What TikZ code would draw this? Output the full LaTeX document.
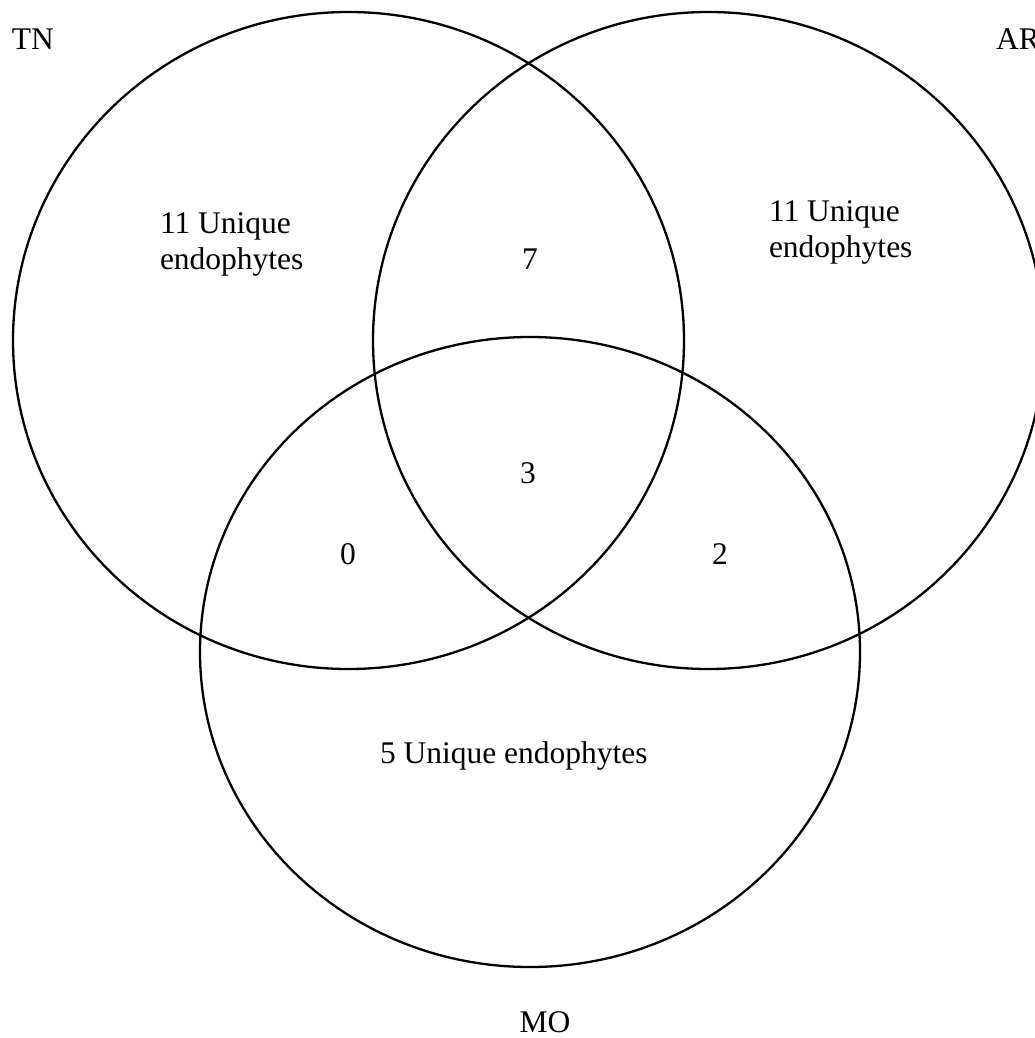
\documentclass[tikz,border=0pt]{standalone}
\usepackage{fontspec}
\setmainfont{Liberation Serif}
\usetikzlibrary{shapes.geometric}
\begin{document}
\begin{tikzpicture}[x=1pt,y=-1pt,
  setring/.style={draw=black,line width=2.3pt,ellipse,inner sep=0pt,outer sep=0pt},
  lbl/.style={font=\fontsize{31.5}{36}\selectfont,inner sep=0pt,outer sep=0pt},
  num/.style={lbl,anchor=base},
  lbltxt/.style={lbl,anchor=base west,align=left}]
\useasboundingbox (0,0) rectangle (1034,1038);
\node[setring,minimum width=671pt,minimum height=657pt] (TN) at (348.5,340.5) {};
\node[setring,minimum width=671pt,minimum height=657pt] (AR) at (708.5,340.5) {};
\node[setring,minimum width=660pt,minimum height=630pt] (MO) at (530,652) {};
\node[lbltxt] (tnname) at (12,50) {TN};
\node[lbltxt] (arname) at (996,50) {AR};
\node[num] (moname) at (545,1032) {MO};
\node[lbltxt] (tnuniq) at (160,269) {11 Unique\\endophytes};
\node[lbltxt] (aruniq) at (769,257) {11 Unique\\endophytes};
\node[num] (tnar) at (530,269) {7};
\node[num] (all) at (528,483) {3};
\node[num] (tnmo) at (348,564) {0};
\node[num] (armo) at (720,564) {2};
\node[lbltxt] (mouniq) at (380,763) {5 Unique endophytes};
\end{tikzpicture}
\end{document}
